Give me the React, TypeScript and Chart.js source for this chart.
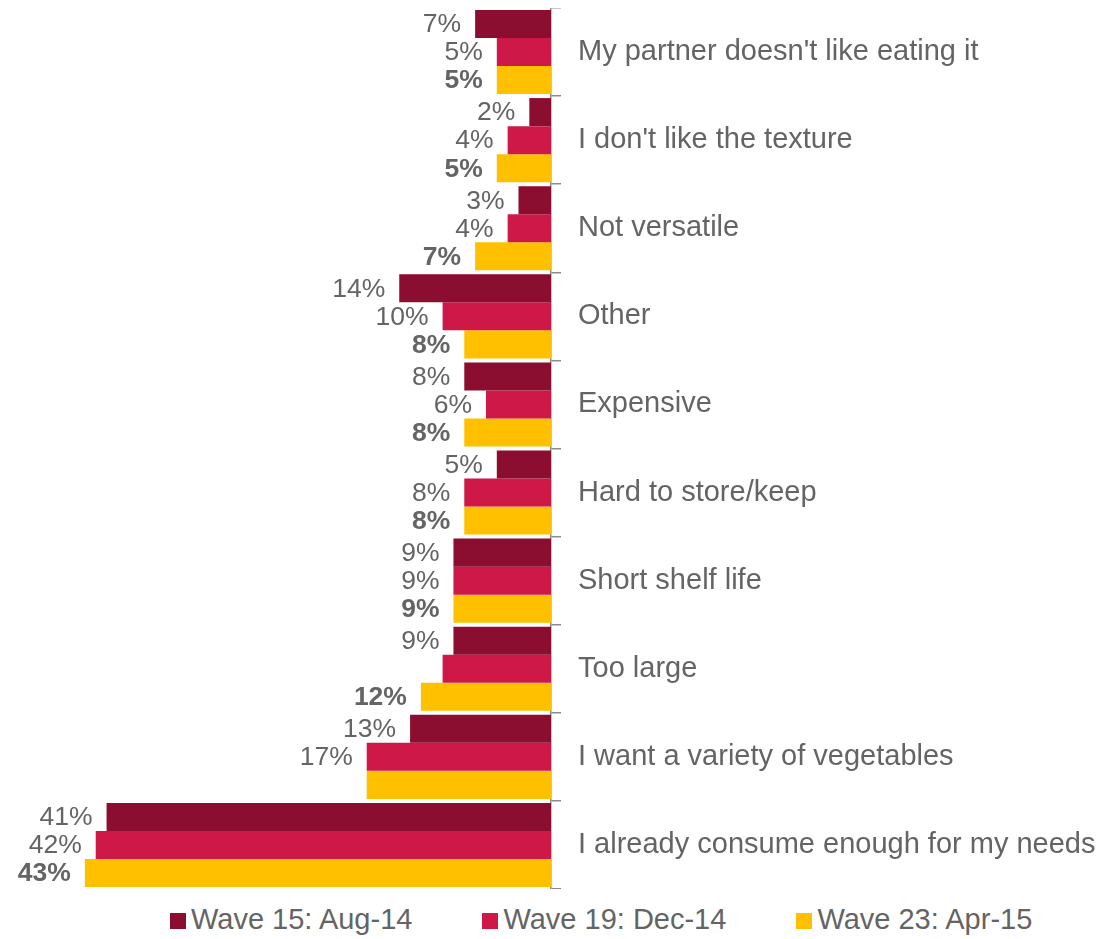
import React, { useEffect, useRef } from "react";
import { Chart, registerables } from "chart.js";

Chart.register(...registerables);

const categories = [
  "My partner doesn't like eating it",
  "I don't like the texture",
  "Not versatile",
  "Other",
  "Expensive",
  "Hard to store/keep",
  "Short shelf life",
  "Too large",
  "I want a variety of vegetables",
  "I already consume enough for my needs",
];

const seriesNames = ["Wave 15: Aug-14", "Wave 19: Dec-14", "Wave 23: Apr-15"];
const seriesColors = ["#8B0E30", "#CE1848", "#FFC000"];

const wave15 = [7, 2, 3, 14, 8, 5, 9, 9, 13, 41];
const wave19 = [5, 4, 4, 10, 6, 8, 9, 10, 17, 42];
const wave23 = [5, 5, 7, 8, 8, 8, 9, 12, 17, 43];

const wave15Labels = ["7%", "2%", "3%", "14%", "8%", "5%", "9%", "9%", "13%", "41%"];
const wave19Labels = ["5%", "4%", "4%", "10%", "6%", "8%", "9%", null, "17%", "42%"];
const wave23Labels = ["5%", "5%", "7%", "8%", "8%", "8%", "9%", "12%", null, "43%"];

const FONT = "'Liberation Sans', Arial, sans-serif";
const TEXT_COLOR = "#646464";

const valueLabelPlugin = {
  id: "valueLabels",
  afterDatasetsDraw(chart: any) {
    const ctx = chart.ctx;
    const allLabels = [wave15Labels, wave19Labels, wave23Labels];
    ctx.save();
    ctx.fillStyle = TEXT_COLOR;
    ctx.textAlign = "right";
    ctx.textBaseline = "middle";
    chart.data.datasets.forEach((ds: any, di: number) => {
      const meta = chart.getDatasetMeta(di);
      ctx.font = (di === 2 ? "bold " : "") + "26.5px " + FONT;
      meta.data.forEach((el: any, i: number) => {
        const lbl = allLabels[di][i];
        if (!lbl) return;
        const left = Math.min(el.x, el.base);
        ctx.fillText(lbl, left - 14, el.y + 1);
      });
    });
    ctx.restore();
  },
};

export default function App() {
  const canvasRef = useRef<HTMLCanvasElement>(null);

  useEffect(() => {
    if (!canvasRef.current) return;
    const values = [wave15, wave19, wave23];
    const chart = new Chart(canvasRef.current, {
      type: "bar",
      data: {
        labels: categories,
        datasets: seriesNames.map((name, i) => ({
          label: name,
          data: values[i],
          backgroundColor: seriesColors[i],
          borderWidth: 0,
          categoryPercentage: 0.955,
          barPercentage: 1,
        })),
      },
      options: {
        indexAxis: "y",
        animation: false,
        responsive: true,
        maintainAspectRatio: false,
        layout: { padding: { left: 1, top: 0, bottom: 0, right: 0 } },
        plugins: {
          legend: { display: false },
          tooltip: { enabled: false },
        },
        scales: {
          x: {
            display: false,
            reverse: true,
            min: 0,
            max: 50,
          },
          y: {
            position: "right",
            grid: {
              offset: true,
              drawOnChartArea: false,
              drawTicks: true,
              tickLength: 10,
              color: "#8C8C8C",
              lineWidth: 1.5,
            },
            border: { display: true, color: "#8C8C8C", width: 1.5 },
            ticks: {
              padding: 17,
              color: TEXT_COLOR,
              font: { family: FONT, size: 29 },
              autoSkip: false,
            },
            afterFit(scale: any) {
              scale.width = 558;
              scale.paddingTop = 0;
              scale.paddingBottom = 0;
            },
          },
        },
      },
      plugins: [valueLabelPlugin],
    });
    return () => chart.destroy();
  }, []);

  const legendGaps = [70, 70, 0];

  return (
    <div style={{ width: "100%" }}>
      <div style={{ position: "relative", width: "100%", height: 881 }}>
        <canvas ref={canvasRef} />
      </div>
      <div
        style={{
          display: "flex",
          alignItems: "center",
          marginTop: 14,
          marginLeft: 162,
          fontFamily: FONT,
          fontSize: 29,
          color: TEXT_COLOR,
          lineHeight: "33px",
          whiteSpace: "nowrap",
        }}
      >
        {seriesNames.map((name, i) => (
          <div
            key={name}
            style={{ display: "flex", alignItems: "center", marginRight: legendGaps[i] }}
          >
            <span
              style={{
                display: "inline-block",
                width: 16,
                height: 16,
                background: seriesColors[i],
                marginRight: 5,
                marginTop: 2,
              }}
            />
            <span>{name}</span>
          </div>
        ))}
      </div>
    </div>
  );
}
